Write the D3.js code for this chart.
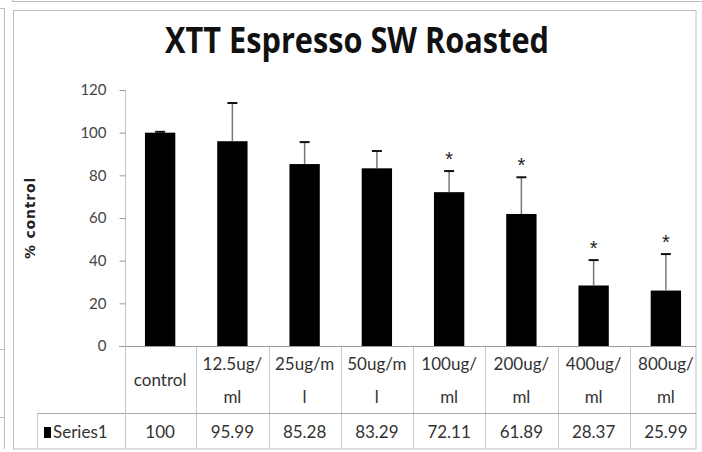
<!DOCTYPE html>
<html><head><meta charset="utf-8">
<script src="https://cdn.jsdelivr.net/npm/d3@7"></script>
<style>html,body{margin:0;padding:0;background:#fff;}svg{display:block;}</style>
</head><body>
<svg id="c" width="702" height="452"></svg>
<script>
const categories = ["control","12.5ug/ml","25ug/ml","50ug/ml","100ug/ml","200ug/ml","400ug/ml","800ug/ml"];
const labelLines = [["control"],["12.5ug/","ml"],["25ug/m","l"],["50ug/m","l"],["100ug/","ml"],["200ug/","ml"],["400ug/","ml"],["800ug/","ml"]];
const values = [100, 95.99, 85.28, 83.29, 72.11, 61.89, 28.37, 25.99];
const valueLabels = ["100","95.99","85.28","83.29","72.11","61.89","28.37","25.99"];
const errors = [0.4, 17.9, 10.3, 8.1, 9.9, 17.2, 11.9, 17.1];
const significant = [false,false,false,false,true,true,true,true];
const yTicks = [0,20,40,60,80,100,120];
const seriesName = "Series1";
const title = "XTT Espresso SW Roasted";
const yTitle = "% control";

const svg = d3.select("#c");
const font = "Lato, 'Open Sans', sans-serif";

// surrounding screenshot borders
const deco = svg.append("g").attr("stroke","#bdbdbd").attr("fill","none");
deco.append("line").attr("x1",12).attr("x2",702).attr("y1",1.5).attr("y2",1.5);
deco.append("line").attr("x1",12.5).attr("x2",12.5).attr("y1",0).attr("y2",2);
deco.append("path").attr("d","M0,8.5H4.5V449");
deco.append("line").attr("x1",0).attr("x2",4).attr("y1",349.5).attr("y2",349.5);
deco.append("line").attr("x1",0).attr("x2",4).attr("y1",417.5).attr("y2",417.5);
// chart frame
svg.append("rect").attr("x",13.5).attr("y",10.5).attr("width",682.5).attr("height",438.5)
  .attr("fill","none").attr("stroke","#bdbdbd");

const x = d3.scaleBand().domain(categories).range([124, 702]).paddingInner(0.58).paddingOuter(0.29);
const xb = d3.scaleBand().domain(categories).range([124, 702]);
const y = d3.scaleLinear().domain([0,120]).range([346, 90]);

const plot = svg.append("g").attr("clip-path","url(#clip)");
svg.append("clipPath").attr("id","clip").append("rect").attr("x",0).attr("y",0).attr("width",696).attr("height",452);

// title
svg.append("text").attr("x",357).attr("y",53).attr("text-anchor","middle")
  .attr("font-family","'Open Sans', sans-serif").attr("font-weight",700).attr("font-size",35)
  .attr("textLength",384).attr("lengthAdjust","spacingAndGlyphs").attr("fill","#111").text(title);

// y axis
const yAxis = d3.axisLeft(y).tickValues(yTicks).tickSize(6).tickPadding(13);
const ya = svg.append("g").attr("transform","translate(125.5,0)").call(yAxis);
ya.select(".domain").attr("stroke","#c4c4c4").attr("d","M0,90V449");
ya.selectAll(".tick line").attr("stroke","#9a9a9a");
ya.selectAll(".tick text").attr("font-family",font).attr("font-size",15).attr("fill","#444");

// y title
svg.append("text").attr("transform","translate(35,218) rotate(-90)").attr("text-anchor","middle")
  .attr("font-family","'DejaVu Sans', sans-serif").attr("font-weight","bold").attr("font-size",14)
  .attr("letter-spacing",0.8).attr("fill","#222").text(yTitle);

// table grid
const grid = plot.append("g").attr("stroke","#c8c8c8").attr("fill","none");
categories.forEach((c,i)=>{
  if(i>0) grid.append("line").attr("x1",Math.round(xb(c))+0.5).attr("x2",Math.round(xb(c))+0.5).attr("y1",346).attr("y2",449);
});
plot.append("line").attr("x1",37).attr("x2",702).attr("y1",413.5).attr("y2",413.5).attr("stroke","#a8a8a8");
svg.append("line").attr("x1",37.5).attr("x2",37.5).attr("y1",413).attr("y2",449).attr("stroke","#c8c8c8");

// bars
plot.selectAll("rect.bar").data(values).join("rect").attr("class","bar")
  .attr("x",(d,i)=>x(categories[i])).attr("width",x.bandwidth())
  .attr("y",d=>y(d)).attr("height",d=>y(0)-y(d)).attr("fill","#000");

// error bars
const eg = plot.append("g");
values.forEach((v,i)=>{
  const cx = x(categories[i]) + x.bandwidth()/2;
  eg.append("line").attr("x1",cx).attr("x2",cx).attr("y1",y(v)).attr("y2",y(v+errors[i])).attr("stroke","#777").attr("stroke-width",1.5);
  eg.append("line").attr("x1",cx-5).attr("x2",cx+5).attr("y1",y(v+errors[i])).attr("y2",y(v+errors[i])).attr("stroke","#111").attr("stroke-width",2);
  if(significant[i]) eg.append("text").attr("x",cx).attr("y",y(v+errors[i])-5).attr("text-anchor","middle")
    .attr("font-family","'Liberation Sans', Arial, sans-serif").attr("font-size",20).attr("fill","#222").text("*");
});

// x axis line
plot.append("line").attr("x1",119).attr("x2",702).attr("y1",346.5).attr("y2",346.5).attr("stroke","#9a9a9a");

// category labels
const lg = plot.append("g").attr("font-family",font).attr("font-size",17).attr("fill","#333").attr("text-anchor","middle");
labelLines.forEach((lines,i)=>{
  const cx = xb(categories[i]) + xb.bandwidth()/2;
  if(lines.length===1) lg.append("text").attr("x",cx).attr("y",386).text(lines[0]);
  else lines.forEach((t,j)=>lg.append("text").attr("x",cx).attr("y",370+j*33).text(t));
});
// values row
valueLabels.forEach((t,i)=>{
  const cx = xb(categories[i]) + xb.bandwidth()/2;
  lg.append("text").attr("x",cx).attr("y",438).text(t);
});
// legend key
svg.append("rect").attr("x",44).attr("y",427).attr("width",7).attr("height",11).attr("fill","#000");
svg.append("text").attr("x",53).attr("y",438).attr("font-family",font).attr("font-size",17).attr("fill","#333").text(seriesName);
</script>
</body></html>
